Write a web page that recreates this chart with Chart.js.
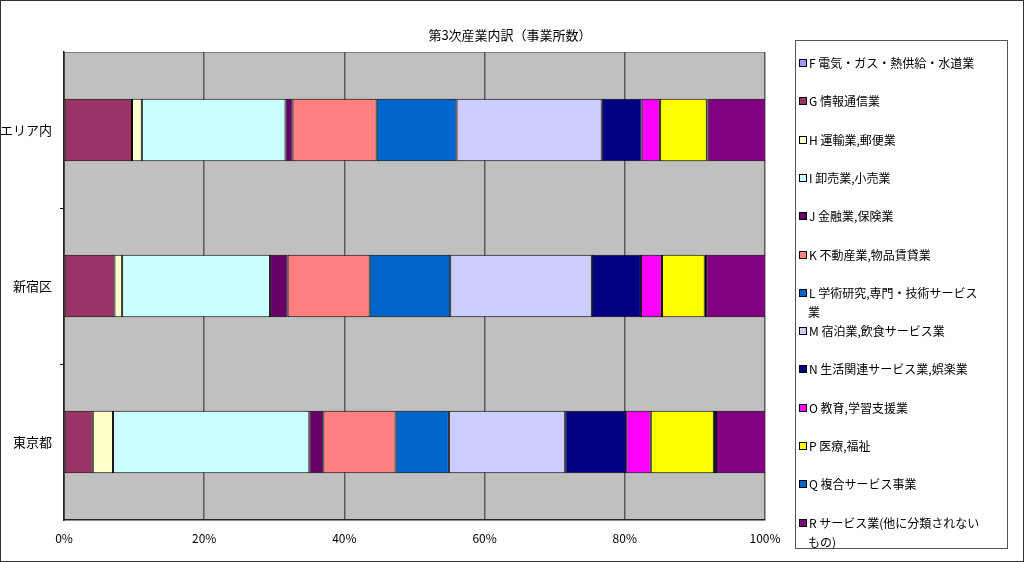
<!DOCTYPE html>
<html>
<head>
<meta charset="utf-8">
<script src="https://cdn.jsdelivr.net/npm/chart.js@4/dist/chart.umd.min.js"></script>
<style>
  html, body { margin: 0; padding: 0; background: #fff; }
  #wrap { width: 1024px; height: 562px; }
</style>
</head>
<body>
<div id="wrap"><canvas id="chart" width="1024" height="562"></canvas></div>
<script>
const categories = ['エリア内', '新宿区', '東京都'];

const seriesNames = [
  'F 電気・ガス・熱供給・水道業',
  'G 情報通信業',
  'H 運輸業,郵便業',
  'I 卸売業,小売業',
  'J 金融業,保険業',
  'K 不動産業,物品賃貸業',
  'L 学術研究,専門・技術サービス\n業',
  'M 宿泊業,飲食サービス業',
  'N 生活関連サービス業,娯楽業',
  'O 教育,学習支援業',
  'P 医療,福祉',
  'Q 複合サービス事業',
  'R サービス業(他に分類されない\nもの)'
];

const seriesColors = [
  '#9999FF', '#993366', '#FFFFCC', '#CCFFFF', '#660066', '#FF8080',
  '#0066CC', '#CCCCFF', '#000080', '#FF00FF', '#FFFF00', '#0066CC', '#800080'
];

// percent share per category: エリア内, 新宿区, 東京都
const valF = [0.1, 0.1, 0.1];
const valG = [9.6, 7.1, 4.0];
const valH = [1.4, 1.1, 2.9];
const valI = [20.5, 21.1, 28.0];
const valJ = [1.0, 2.5, 2.0];
const valK = [12.0, 11.7, 10.3];
const valL = [11.4, 11.5, 7.6];
const valM = [20.7, 20.2, 16.6];
const valN = [5.7, 7.0, 8.7];
const valO = [2.6, 3.0, 3.5];
const valP = [6.7, 6.1, 9.0];
const valQ = [0.1, 0.2, 0.3];
const valR = [8.3, 8.5, 7.2];

const seriesValues = [valF, valG, valH, valI, valJ, valK, valL, valM, valN, valO, valP, valQ, valR];

const xTicks = [0, 20, 40, 60, 80, 100];

const titleText = '第3次産業内訳（事業所数）';
const jpFont = '"Noto Sans CJK JP", "Noto Sans", sans-serif';

const datasets = seriesNames.map((name, i) => ({
  label: name,
  data: seriesValues[i],
  backgroundColor: seriesColors[i],
  borderColor: '#000',
  borderWidth: 1,
  borderSkipped: false,
  categoryPercentage: 1.0,
  barPercentage: 0.4
}));

// frame, plot background, title and boxed legend
const excelLook = {
  id: 'excelLook',
  beforeDraw(chart) {
    const { ctx, chartArea: a } = chart;
    ctx.save();
    ctx.fillStyle = '#C0C0C0';
    ctx.fillRect(a.left, a.top, a.right - a.left, a.bottom - a.top);
    ctx.strokeStyle = '#808080';
    ctx.lineWidth = 1;
    ctx.strokeRect(a.left + 0.5, a.top + 0.5, a.right - a.left - 1, a.bottom - a.top - 1);
    ctx.restore();
  },
  afterDraw(chart) {
    const ctx = chart.ctx;
    ctx.save();
    // outer frame
    ctx.strokeStyle = '#333';
    ctx.lineWidth = 1;
    ctx.strokeRect(0.5, 0.5, 1023, 561);

    // title
    ctx.fillStyle = '#000';
    ctx.font = '13px ' + jpFont;
    ctx.textAlign = 'center';
    ctx.textBaseline = 'middle';
    ctx.fillText(titleText, 510, 35);

    // legend box
    ctx.strokeStyle = '#555';
    ctx.strokeRect(795.5, 40.5, 212, 508);
    ctx.font = '12px ' + jpFont;
    ctx.textAlign = 'left';
    chart.data.datasets.forEach((ds, i) => {
      const y = Math.round(63 + i * 38.3);
      ctx.fillStyle = ds.backgroundColor;
      ctx.fillRect(799.5, y - 3.5, 7, 7);
      ctx.strokeStyle = '#000';
      ctx.strokeRect(799.5, y - 3.5, 7, 7);
      ctx.fillStyle = '#000';
      ds.label.split('\n').forEach((line, k) => {
        ctx.fillText(line, k === 0 ? 809 : 808, y + k * 19);
      });
    });
    ctx.restore();
  }
};

new Chart(document.getElementById('chart'), {
  type: 'bar',
  data: { labels: categories, datasets: datasets },
  plugins: [excelLook],
  options: {
    indexAxis: 'y',
    responsive: false,
    animation: false,
    layout: { padding: { top: 52, right: 259, left: 0, bottom: 0 } },
    plugins: {
      legend: { display: false },
      title: { display: false },
      tooltip: { enabled: false }
    },
    scales: {
      x: {
        stacked: true,
        min: 0,
        max: 100,
        afterFit(scale) { scale.height = 42; },
        afterBuildTicks(scale) { scale.ticks = xTicks.map(v => ({ value: v })); },
        ticks: {
          callback: v => v + '%',
          color: '#000',
          padding: 11,
          font: { family: jpFont, size: 12 }
        },
        grid: { color: '#5a5a5a', lineWidth: 1.5, drawTicks: false },
        border: { color: '#222', width: 1.5 }
      },
      y: {
        stacked: true,
        afterFit(scale) { scale.width = 64; },
        ticks: {
          color: '#000',
          padding: 8,
          font: { family: jpFont, size: 13 }
        },
        grid: {
          offset: true,
          drawOnChartArea: false,
          tickLength: 4,
          color: c => (c.type === 'tick' && c.index > 0) ? '#000' : 'rgba(0,0,0,0)'
        },
        border: { color: '#222', width: 1.5 }
      }
    }
  }
});
</script>
</body>
</html>
